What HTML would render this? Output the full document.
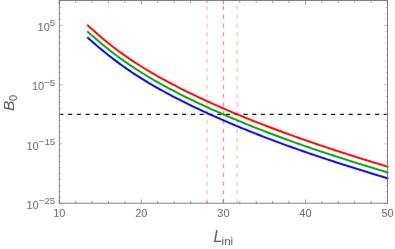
<!DOCTYPE html>
<html><head><meta charset="utf-8"><style>
html,body{margin:0;padding:0;background:#fff;}
body{width:395px;height:249px;overflow:hidden;position:relative;font-family:"Liberation Sans",sans-serif;}
svg{position:absolute;left:0;top:0;}
text{font-family:"Liberation Sans",sans-serif;}
</style></head><body>
<svg width="395" height="249" viewBox="0 0 395 249">
<defs><filter id="sb" x="-5%" y="-5%" width="110%" height="110%" color-interpolation-filters="sRGB"><feConvolveMatrix order="3" kernelMatrix="0.005 0.035 0.005 0.035 0.84 0.035 0.005 0.035 0.005" divisor="1" edgeMode="duplicate" preserveAlpha="false"/></filter></defs>
<rect width="395" height="249" fill="#fff"/>
<g fill="none" stroke-linecap="butt">
<g stroke-dasharray="4.2 4.57" stroke-width="1.3">
<path d="M206.9 203.2V0.5" stroke="#fbc0c0"/>
<path d="M223.5 203.2V0.5" stroke="#f79494"/>
<path d="M237.2 203.2V0.5" stroke="#fbc0c0"/>
</g>
<path d="M59.3 114.4H387.5" stroke="#111" stroke-width="1.3" stroke-dasharray="4.1 4.668"/>
<g stroke-width="1.95" stroke-linejoin="round" stroke-linecap="round" filter="url(#sb)">
<path d="M87.8 37.84 L89.8 39.60 L91.8 41.35 L93.8 43.09 L95.8 44.80 L97.8 46.50 L99.8 48.17 L101.8 49.84 L103.8 51.49 L105.8 53.11 L107.8 54.71 L109.8 56.29 L111.8 57.84 L113.8 59.36 L115.8 60.87 L117.8 62.37 L119.8 63.85 L121.8 65.30 L123.8 66.73 L125.8 68.14 L127.8 69.53 L129.8 70.89 L131.8 72.24 L133.8 73.57 L135.8 74.87 L137.8 76.16 L139.8 77.43 L141.8 78.69 L143.8 79.92 L145.8 81.14 L147.8 82.35 L149.8 83.54 L151.8 84.72 L153.8 85.88 L155.8 87.03 L157.8 88.16 L159.8 89.29 L161.8 90.40 L163.8 91.50 L165.8 92.59 L167.8 93.67 L169.8 94.73 L171.8 95.79 L173.8 96.84 L175.8 97.88 L177.8 98.90 L179.8 99.92 L181.8 100.93 L183.8 101.94 L185.8 102.93 L187.8 103.92 L189.8 104.89 L191.8 105.86 L193.8 106.83 L195.8 107.78 L197.8 108.73 L199.8 109.67 L201.8 110.60 L203.8 111.53 L205.8 112.45 L207.8 113.37 L209.8 114.28 L211.8 115.18 L213.8 116.08 L215.8 116.97 L217.8 117.85 L219.8 118.73 L221.8 119.61 L223.8 120.48 L225.8 121.34 L227.8 122.20 L229.8 123.05 L231.8 123.90 L233.8 124.74 L235.8 125.58 L237.8 126.41 L239.8 127.24 L241.8 128.06 L243.8 128.88 L245.8 129.69 L247.8 130.50 L249.8 131.31 L251.8 132.11 L253.8 132.90 L255.8 133.69 L257.8 134.48 L259.8 135.26 L261.8 136.04 L263.8 136.82 L265.8 137.59 L267.8 138.35 L269.8 139.11 L271.8 139.87 L273.8 140.63 L275.8 141.38 L277.8 142.12 L279.8 142.87 L281.8 143.60 L283.8 144.34 L285.8 145.07 L287.8 145.80 L289.8 146.52 L291.8 147.24 L293.8 147.96 L295.8 148.67 L297.8 149.38 L299.8 150.09 L301.8 150.79 L303.8 151.49 L305.8 152.18 L307.8 152.87 L309.8 153.55 L311.8 154.23 L313.8 154.91 L315.8 155.59 L317.8 156.26 L319.8 156.93 L321.8 157.60 L323.8 158.27 L325.8 158.93 L327.8 159.59 L329.8 160.24 L331.8 160.90 L333.8 161.55 L335.8 162.20 L337.8 162.84 L339.8 163.49 L341.8 164.13 L343.8 164.77 L345.8 165.40 L347.8 166.04 L349.8 166.67 L351.8 167.30 L353.8 167.93 L355.8 168.55 L357.8 169.18 L359.8 169.80 L361.8 170.42 L363.8 171.04 L365.8 171.65 L367.8 172.27 L369.8 172.88 L371.8 173.49 L373.8 174.10 L375.8 174.70 L377.8 175.31 L379.8 175.91 L381.8 176.52 L383.8 177.12 L385.8 177.72 L387.7 178.29" stroke="#0000ff"/>
<path d="M87.8 31.84 L89.8 33.61 L91.8 35.37 L93.8 37.11 L95.8 38.84 L97.8 40.54 L99.8 42.21 L101.8 43.89 L103.8 45.55 L105.8 47.18 L107.8 48.79 L109.8 50.37 L111.8 51.93 L113.8 53.46 L115.8 54.97 L117.8 56.47 L119.8 57.95 L121.8 59.40 L123.8 60.84 L125.8 62.24 L127.8 63.63 L129.8 65.00 L131.8 66.34 L133.8 67.67 L135.8 68.98 L137.8 70.27 L139.8 71.54 L141.8 72.79 L143.8 74.03 L145.8 75.25 L147.8 76.46 L149.8 77.65 L151.8 78.83 L153.8 79.99 L155.8 81.14 L157.8 82.28 L159.8 83.40 L161.8 84.51 L163.8 85.61 L165.8 86.70 L167.8 87.78 L169.8 88.85 L171.8 89.91 L173.8 90.95 L175.8 91.99 L177.8 93.02 L179.8 94.04 L181.8 95.05 L183.8 96.05 L185.8 97.05 L187.8 98.03 L189.8 99.01 L191.8 99.98 L193.8 100.95 L195.8 101.90 L197.8 102.85 L199.8 103.79 L201.8 104.73 L203.8 105.66 L205.8 106.58 L207.8 107.49 L209.8 108.40 L211.8 109.31 L213.8 110.20 L215.8 111.10 L217.8 111.98 L219.8 112.86 L221.8 113.74 L223.8 114.61 L225.8 115.47 L227.8 116.33 L229.8 117.18 L231.8 118.03 L233.8 118.87 L235.8 119.71 L237.8 120.54 L239.8 121.37 L241.8 122.20 L243.8 123.01 L245.8 123.83 L247.8 124.64 L249.8 125.44 L251.8 126.24 L253.8 127.04 L255.8 127.83 L257.8 128.62 L259.8 129.40 L261.8 130.18 L263.8 130.96 L265.8 131.73 L267.8 132.49 L269.8 133.26 L271.8 134.01 L273.8 134.77 L275.8 135.52 L277.8 136.27 L279.8 137.01 L281.8 137.75 L283.8 138.48 L285.8 139.22 L287.8 139.94 L289.8 140.67 L291.8 141.39 L293.8 142.11 L295.8 142.82 L297.8 143.53 L299.8 144.24 L301.8 144.94 L303.8 145.64 L305.8 146.33 L307.8 147.02 L309.8 147.70 L311.8 148.38 L313.8 149.06 L315.8 149.74 L317.8 150.41 L319.8 151.08 L321.8 151.75 L323.8 152.42 L325.8 153.08 L327.8 153.74 L329.8 154.39 L331.8 155.05 L333.8 155.70 L335.8 156.35 L337.8 156.99 L339.8 157.64 L341.8 158.28 L343.8 158.92 L345.8 159.55 L347.8 160.19 L349.8 160.82 L351.8 161.45 L353.8 162.08 L355.8 162.70 L357.8 163.33 L359.8 163.95 L361.8 164.57 L363.8 165.19 L365.8 165.80 L367.8 166.42 L369.8 167.03 L371.8 167.64 L373.8 168.25 L375.8 168.85 L377.8 169.46 L379.8 170.06 L381.8 170.67 L383.8 171.27 L385.8 171.87 L387.7 172.44" stroke="#00a600"/>
<path d="M87.8 25.39 L89.8 27.21 L91.8 29.02 L93.8 30.81 L95.8 32.58 L97.8 34.33 L99.8 36.06 L101.8 37.76 L103.8 39.44 L105.8 41.09 L107.8 42.72 L109.8 44.32 L111.8 45.90 L113.8 47.45 L115.8 48.97 L117.8 50.47 L119.8 51.95 L121.8 53.40 L123.8 54.84 L125.8 56.24 L127.8 57.63 L129.8 59.00 L131.8 60.34 L133.8 61.67 L135.8 62.98 L137.8 64.27 L139.8 65.54 L141.8 66.79 L143.8 68.03 L145.8 69.25 L147.8 70.46 L149.8 71.65 L151.8 72.83 L153.8 73.99 L155.8 75.14 L157.8 76.28 L159.8 77.40 L161.8 78.51 L163.8 79.61 L165.8 80.70 L167.8 81.78 L169.8 82.85 L171.8 83.91 L173.8 84.95 L175.8 85.99 L177.8 87.02 L179.8 88.04 L181.8 89.05 L183.8 90.05 L185.8 91.05 L187.8 92.03 L189.8 93.01 L191.8 93.98 L193.8 94.95 L195.8 95.90 L197.8 96.85 L199.8 97.79 L201.8 98.73 L203.8 99.66 L205.8 100.58 L207.8 101.49 L209.8 102.40 L211.8 103.31 L213.8 104.20 L215.8 105.10 L217.8 105.98 L219.8 106.86 L221.8 107.74 L223.8 108.61 L225.8 109.47 L227.8 110.33 L229.8 111.18 L231.8 112.03 L233.8 112.87 L235.8 113.71 L237.8 114.54 L239.8 115.37 L241.8 116.20 L243.8 117.01 L245.8 117.83 L247.8 118.64 L249.8 119.44 L251.8 120.24 L253.8 121.04 L255.8 121.83 L257.8 122.62 L259.8 123.40 L261.8 124.18 L263.8 124.96 L265.8 125.73 L267.8 126.49 L269.8 127.26 L271.8 128.01 L273.8 128.77 L275.8 129.52 L277.8 130.27 L279.8 131.01 L281.8 131.75 L283.8 132.48 L285.8 133.22 L287.8 133.94 L289.8 134.67 L291.8 135.39 L293.8 136.11 L295.8 136.82 L297.8 137.53 L299.8 138.24 L301.8 138.94 L303.8 139.65 L305.8 140.34 L307.8 141.04 L309.8 141.73 L311.8 142.42 L313.8 143.10 L315.8 143.78 L317.8 144.46 L319.8 145.14 L321.8 145.81 L323.8 146.48 L325.8 147.15 L327.8 147.82 L329.8 148.48 L331.8 149.14 L333.8 149.79 L335.8 150.45 L337.8 151.10 L339.8 151.75 L341.8 152.40 L343.8 153.04 L345.8 153.68 L347.8 154.32 L349.8 154.96 L351.8 155.60 L353.8 156.23 L355.8 156.86 L357.8 157.49 L359.8 158.12 L361.8 158.74 L363.8 159.37 L365.8 159.99 L367.8 160.61 L369.8 161.23 L371.8 161.84 L373.8 162.46 L375.8 163.07 L377.8 163.68 L379.8 164.29 L381.8 164.90 L383.8 165.51 L385.8 166.11 L387.7 166.69" stroke="#ff0000"/>
</g>
<g stroke="#7d7d7d" stroke-width="0.8"><path d="M59.30 203.20V199.40 M59.30 0.50V4.30"/>
<path d="M75.71 203.20V200.90 M75.71 0.50V2.80"/>
<path d="M92.12 203.20V200.90 M92.12 0.50V2.80"/>
<path d="M108.53 203.20V200.90 M108.53 0.50V2.80"/>
<path d="M124.94 203.20V200.90 M124.94 0.50V2.80"/>
<path d="M141.35 203.20V199.40 M141.35 0.50V4.30"/>
<path d="M157.76 203.20V200.90 M157.76 0.50V2.80"/>
<path d="M174.17 203.20V200.90 M174.17 0.50V2.80"/>
<path d="M190.58 203.20V200.90 M190.58 0.50V2.80"/>
<path d="M206.99 203.20V200.90 M206.99 0.50V2.80"/>
<path d="M223.40 203.20V199.40 M223.40 0.50V4.30"/>
<path d="M239.81 203.20V200.90 M239.81 0.50V2.80"/>
<path d="M256.22 203.20V200.90 M256.22 0.50V2.80"/>
<path d="M272.63 203.20V200.90 M272.63 0.50V2.80"/>
<path d="M289.04 203.20V200.90 M289.04 0.50V2.80"/>
<path d="M305.45 203.20V199.40 M305.45 0.50V4.30"/>
<path d="M321.86 203.20V200.90 M321.86 0.50V2.80"/>
<path d="M338.27 203.20V200.90 M338.27 0.50V2.80"/>
<path d="M354.68 203.20V200.90 M354.68 0.50V2.80"/>
<path d="M371.09 203.20V200.90 M371.09 0.50V2.80"/>
<path d="M387.50 203.20V199.40 M387.50 0.50V4.30"/></g>
<g stroke="#a0a0a0" stroke-width="0.7"><path d="M59.30 1.69H61.20 M387.50 1.69H385.60"/>
<path d="M59.30 7.62H61.20 M387.50 7.62H385.60"/>
<path d="M59.30 13.55H61.20 M387.50 13.55H385.60"/>
<path d="M59.30 19.47H61.20 M387.50 19.47H385.60"/>
<path d="M59.30 25.40H62.70 M387.50 25.40H384.10"/>
<path d="M59.30 31.33H61.20 M387.50 31.33H385.60"/>
<path d="M59.30 37.25H61.20 M387.50 37.25H385.60"/>
<path d="M59.30 43.18H61.20 M387.50 43.18H385.60"/>
<path d="M59.30 49.11H61.20 M387.50 49.11H385.60"/>
<path d="M59.30 55.03H61.20 M387.50 55.03H385.60"/>
<path d="M59.30 60.96H61.20 M387.50 60.96H385.60"/>
<path d="M59.30 66.89H61.20 M387.50 66.89H385.60"/>
<path d="M59.30 72.82H61.20 M387.50 72.82H385.60"/>
<path d="M59.30 78.74H61.20 M387.50 78.74H385.60"/>
<path d="M59.30 84.67H62.70 M387.50 84.67H384.10"/>
<path d="M59.30 90.60H61.20 M387.50 90.60H385.60"/>
<path d="M59.30 96.52H61.20 M387.50 96.52H385.60"/>
<path d="M59.30 102.45H61.20 M387.50 102.45H385.60"/>
<path d="M59.30 108.38H61.20 M387.50 108.38H385.60"/>
<path d="M59.30 114.31H61.20 M387.50 114.31H385.60"/>
<path d="M59.30 120.23H61.20 M387.50 120.23H385.60"/>
<path d="M59.30 126.16H61.20 M387.50 126.16H385.60"/>
<path d="M59.30 132.09H61.20 M387.50 132.09H385.60"/>
<path d="M59.30 138.01H61.20 M387.50 138.01H385.60"/>
<path d="M59.30 143.94H62.70 M387.50 143.94H384.10"/>
<path d="M59.30 149.87H61.20 M387.50 149.87H385.60"/>
<path d="M59.30 155.79H61.20 M387.50 155.79H385.60"/>
<path d="M59.30 161.72H61.20 M387.50 161.72H385.60"/>
<path d="M59.30 167.65H61.20 M387.50 167.65H385.60"/>
<path d="M59.30 173.57H61.20 M387.50 173.57H385.60"/>
<path d="M59.30 179.50H61.20 M387.50 179.50H385.60"/>
<path d="M59.30 185.43H61.20 M387.50 185.43H385.60"/>
<path d="M59.30 191.36H61.20 M387.50 191.36H385.60"/>
<path d="M59.30 197.28H61.20 M387.50 197.28H385.60"/>
<path d="M59.30 203.21H62.70 M387.50 203.21H384.10"/></g>
<rect x="59.30" y="0.50" width="328.20" height="202.70" stroke="#767676" stroke-width="0.9"/>
</g>
<g fill="#666" font-size="11px" filter="url(#sb)">
<g text-anchor="middle">
<text x="59.3" y="217">10</text>
<text x="141.3" y="217">20</text>
<text x="223.4" y="217">30</text>
<text x="305.4" y="217">40</text>
<text x="387.6" y="217">50</text>
</g>
<g text-anchor="end">
<text x="55.3" y="31">10<tspan font-size="9.8px" dy="-4.8">5</tspan></text>
<text x="55.3" y="90.3">10<tspan font-size="9.8px" dy="-4.8">−5</tspan></text>
<text x="55.3" y="149.5">10<tspan font-size="9.8px" dy="-4.8">−15</tspan></text>
<text x="55.3" y="208.8">10<tspan font-size="9.8px" dy="-4.8">−25</tspan></text>
</g>
</g>
<g fill="#555" filter="url(#sb)">
<text x="213.6" y="241.6" font-size="16px"><tspan font-style="italic">L</tspan><tspan font-size="11.5px" dx="-0.9" dy="3.4">ini</tspan></text>
<text transform="translate(14 111) rotate(-90)" font-size="15.5px"><tspan font-style="italic">B</tspan><tspan font-size="11px" dx="-0.3" dy="3.2">0</tspan></text>
</g>
</svg>
</body></html>
